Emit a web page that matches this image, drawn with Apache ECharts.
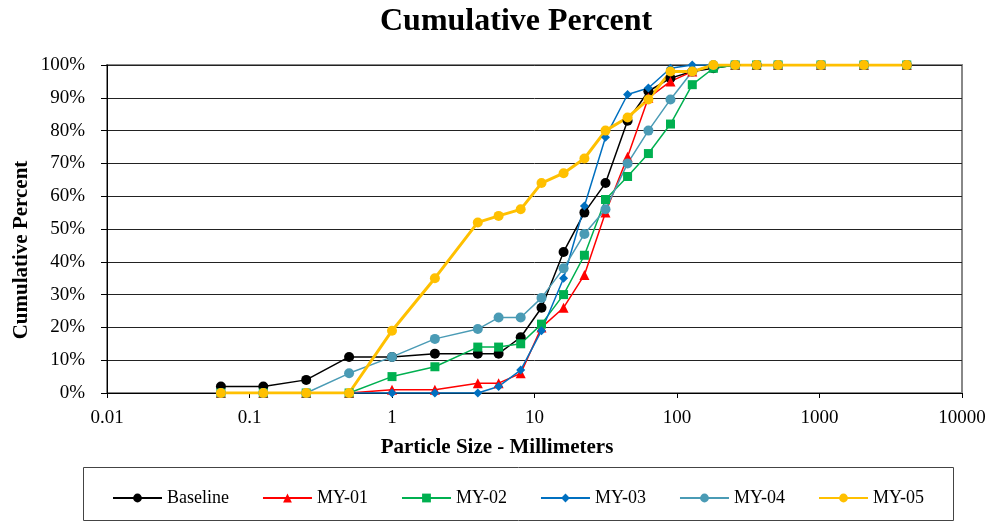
<!DOCTYPE html>
<html><head><meta charset="utf-8">
<script src="https://cdn.jsdelivr.net/npm/echarts@6/dist/echarts.min.js"></script>
<style>html,body{margin:0;padding:0;background:#fff}#c{width:1003px;height:522px}</style>
</head><body><div id="c"></div>
<script>
const sizes = [0.063,0.125,0.25,0.5,1,2,4,5.6,8,11.2,16,22.4,31.5,45,63,90,128,180,256,362,512,1024,2048,4096];
const baseline = [2,2,4,11,11,12,12,12,17,26,43,55,64,83,92,96,98,99,100,100,100,100,100,100];
const my01 = [0,0,0,0,1,1,3,3,6,20,26,36,55,72,90,95,98,100,100,100,100,100,100,100];
const my02 = [0,0,0,0,5,8,14,14,15,21,30,42,59,66,73,82,94,99,100,100,100,100,100,100];
const my03 = [0,0,0,0,0,0,0,2,7,19,35,57,78,91,93,99,100,100,100,100,100,100,100,100];
const my04 = [0,0,0,6,11,16.5,19.5,23,23,29,38,48.5,56,70,80,89.5,98,100,100,100,100,100,100,100];
const my05 = [0,0,0,0,19,35,52,54,56,64,67,71.5,80,84,89.5,98,98,100,100,100,100,100,100,100];
const xTicks = ['0.01','0.1','1','10','100','1000','10000'];

const serif = 'Liberation Serif';
function pts(v){ return sizes.map((s,i)=>[s,v[i]]); }
function ser(name, v, color, symbol, size, width){
  return {name, type:'line', data:pts(v), symbol, symbolSize:size,
    lineStyle:{color, width}, itemStyle:{color}, animation:false};
}
const chart = echarts.init(document.getElementById('c'));
chart.setOption({
  animation:false,
  title:{text:'Cumulative Percent', left:375, top:1,
    textStyle:{fontFamily:serif, fontSize:32, fontWeight:'bold', color:'#000'}},
  grid:{left:107, right:41, top:65, bottom:129, containLabel:false, outerBoundsMode:'none',
    show:true, borderColor:'#888', borderWidth:2},
  xAxis:{type:'log', logBase:10, min:0.01, max:10000,
    axisLine:{lineStyle:{color:'#000'}}, axisTick:{show:true, inside:false, length:5, lineStyle:{color:'#000'}},
    splitLine:{show:false},
    axisLabel:{fontFamily:serif, fontSize:19, color:'#000', margin:16,
      formatter:(v)=>{const e=Math.round(Math.log10(v)); return xTicks[e+2];}}},
  yAxis:{type:'value', min:0, max:100, interval:10,
    axisLine:{show:true, lineStyle:{color:'#000'}}, axisTick:{show:true, length:6, lineStyle:{color:'#000'}},
    splitLine:{lineStyle:{color:'#222', width:1}},
    axisLabel:{fontFamily:serif, fontSize:19, color:'#000', margin:22, formatter:'{value}%'}},
  legend:{left:107, top:484, itemWidth:49, itemHeight:11, itemGap:33,
    textStyle:{fontFamily:serif, fontSize:18, color:'#000'},
    data:['Baseline','MY-01','MY-02','MY-03','MY-04','MY-05']},
  graphic:[
    {type:'rect', shape:{x:83.5, y:467.5, width:870, height:53}, style:{fill:'none', stroke:'#444', lineWidth:1}, z:-1},
    {type:'text', x:497, y:448, style:{text:'Particle Size - Millimeters', font:'bold 21px "Liberation Serif"', fill:'#000', textAlign:'center', textVerticalAlign:'middle'}},
    {type:'text', x:22, y:250, rotation:Math.PI/2, style:{text:'Cumulative Percent', font:'bold 21px "Liberation Serif"', fill:'#000', textAlign:'center', textVerticalAlign:'middle'}}
  ],
  series:[
    ser('Baseline', baseline, '#000000', 'circle', 10, 1.5),
    ser('MY-01', my01, '#FF0000', 'triangle', 10, 1.5),
    ser('MY-02', my02, '#00B050', 'rect', 9, 1.5),
    ser('MY-03', my03, '#0070C0', 'diamond', 9, 1.5),
    ser('MY-04', my04, '#4A9BB5', 'circle', 10, 1.5),
    ser('MY-05', my05, '#FFC000', 'circle', 10, 3)
  ]
});
</script></body></html>
